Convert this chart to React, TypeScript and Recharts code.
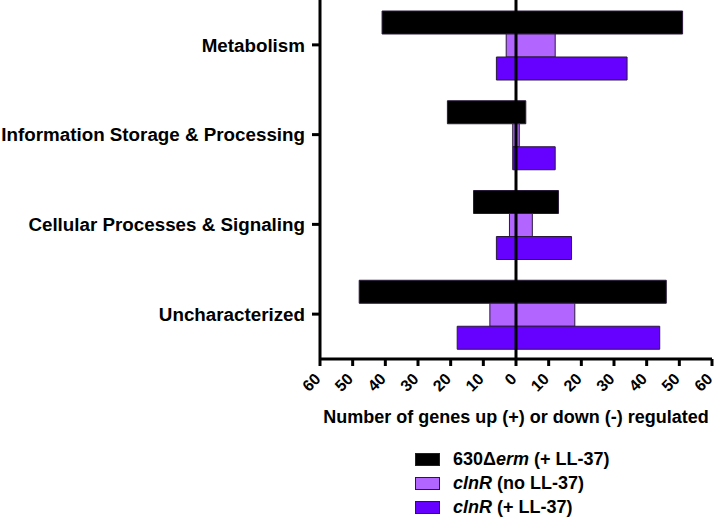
import { Bar, BarChart, ReferenceLine, XAxis, YAxis } from "recharts";

const categories = [
  "Metabolism",
  "Information Storage & Processing",
  "Cellular Processes & Signaling",
  "Uncharacterized",
];

// 630Δerm (+ LL-37)
const wtUp = [51, 3, 13, 46];
const wtDown = [-41, -21, -13, -48];
// clnR (no LL-37)
const clnrNoUp = [12, 1, 5, 18];
const clnrNoDown = [-3, -1, -2, -8];
// clnR (+ LL-37)
const clnrUp = [34, 12, 17, 44];
const clnrDown = [-6, -1, -6, -18];

const xTicks = [-60, -50, -40, -30, -20, -10, 0, 10, 20, 30, 40, 50, 60];

const FONT = '"Liberation Sans", Arial, Helvetica, sans-serif';
const BLACK = "#000000";
const LIGHT = "#B266FF";
const PURPLE = "#6600FF";
const EDGE = "#2a1a3a";

const data = categories.map((name, i) => ({
  name,
  wtUp: wtUp[i],
  wtDown: wtDown[i],
  noUp: clnrNoUp[i],
  noDown: clnrNoDown[i],
  llUp: clnrUp[i],
  llDown: clnrDown[i],
}));

const legendItems = [
  { color: BLACK, label: <>630Δ<i>erm</i> (+ LL-37)</> },
  { color: LIGHT, label: <><i>clnR</i> (no LL-37)</> },
  { color: PURPLE, label: <><i>clnR</i> (+ LL-37)</> },
];

function XTick(props: any) {
  const { x, y, payload } = props;
  // anchor at the end of the label, the label runs up-right to the tick
  const ax = x + 1.5;
  const ay = y + 12;
  return (
    <text
      x={ax}
      y={ay}
      textAnchor="end"
      transform={`rotate(-45, ${ax}, ${ay})`}
      fill="#000"
      fontSize={16}
      fontWeight={700}
      fontFamily={FONT}
    >
      {Math.abs(Number(payload.value))}
    </text>
  );
}

export default function App() {
  return (
    <div style={{ position: "absolute", left: 0, top: 0, width: 714, height: 518, background: "#fff" }}>
      <BarChart
        width={714}
        height={518}
        data={data}
        layout="vertical"
        stackOffset="sign"
        barCategoryGap={11}
        barGap={0}
        margin={{ top: 0, right: 2, bottom: 0, left: 0 }}
      >
        <XAxis
          type="number"
          domain={[-60, 60]}
          ticks={xTicks}
          interval={0}
          height={159}
          stroke="#000"
          strokeWidth={3}
          tickSize={7}
          tick={<XTick />}
          label={{
            value: "Number of genes up (+) or down (-) regulated",
            position: "insideTop",
            offset: 51,
            fill: "#000",
            fontSize: 18,
            fontWeight: 700,
            fontFamily: FONT,
          }}
        />
        <YAxis
          type="category"
          dataKey="name"
          width={320}
          stroke="#000"
          strokeWidth={3}
          tickSize={8}
          tickMargin={7}
          tick={{ fill: "#000", fontSize: 18.8, fontWeight: 700, fontFamily: FONT }}
        />
        <Bar dataKey="wtUp" stackId="wt" fill={BLACK} stroke={EDGE} isAnimationActive={false} />
        <Bar dataKey="wtDown" stackId="wt" fill={BLACK} stroke={EDGE} isAnimationActive={false} />
        <Bar dataKey="noUp" stackId="no" fill={LIGHT} stroke={EDGE} isAnimationActive={false} />
        <Bar dataKey="noDown" stackId="no" fill={LIGHT} stroke={EDGE} isAnimationActive={false} />
        <Bar dataKey="llUp" stackId="ll" fill={PURPLE} stroke={EDGE} isAnimationActive={false} />
        <Bar dataKey="llDown" stackId="ll" fill={PURPLE} stroke={EDGE} isAnimationActive={false} />
        <ReferenceLine x={0} stroke="#000" strokeWidth={3} />
      </BarChart>
      <div style={{ position: "absolute", left: 415, top: 447, fontFamily: FONT, fontWeight: 700, fontSize: 18, color: "#000" }}>
        {legendItems.map((item, i) => (
          <div key={i} style={{ display: "flex", alignItems: "center", height: 24 }}>
            <span
              style={{
                display: "inline-block",
                width: 23,
                height: 11,
                background: item.color,
                border: `1px solid ${EDGE}`,
                marginRight: 13,
              }}
            />
            <span>{item.label}</span>
          </div>
        ))}
      </div>
    </div>
  );
}
